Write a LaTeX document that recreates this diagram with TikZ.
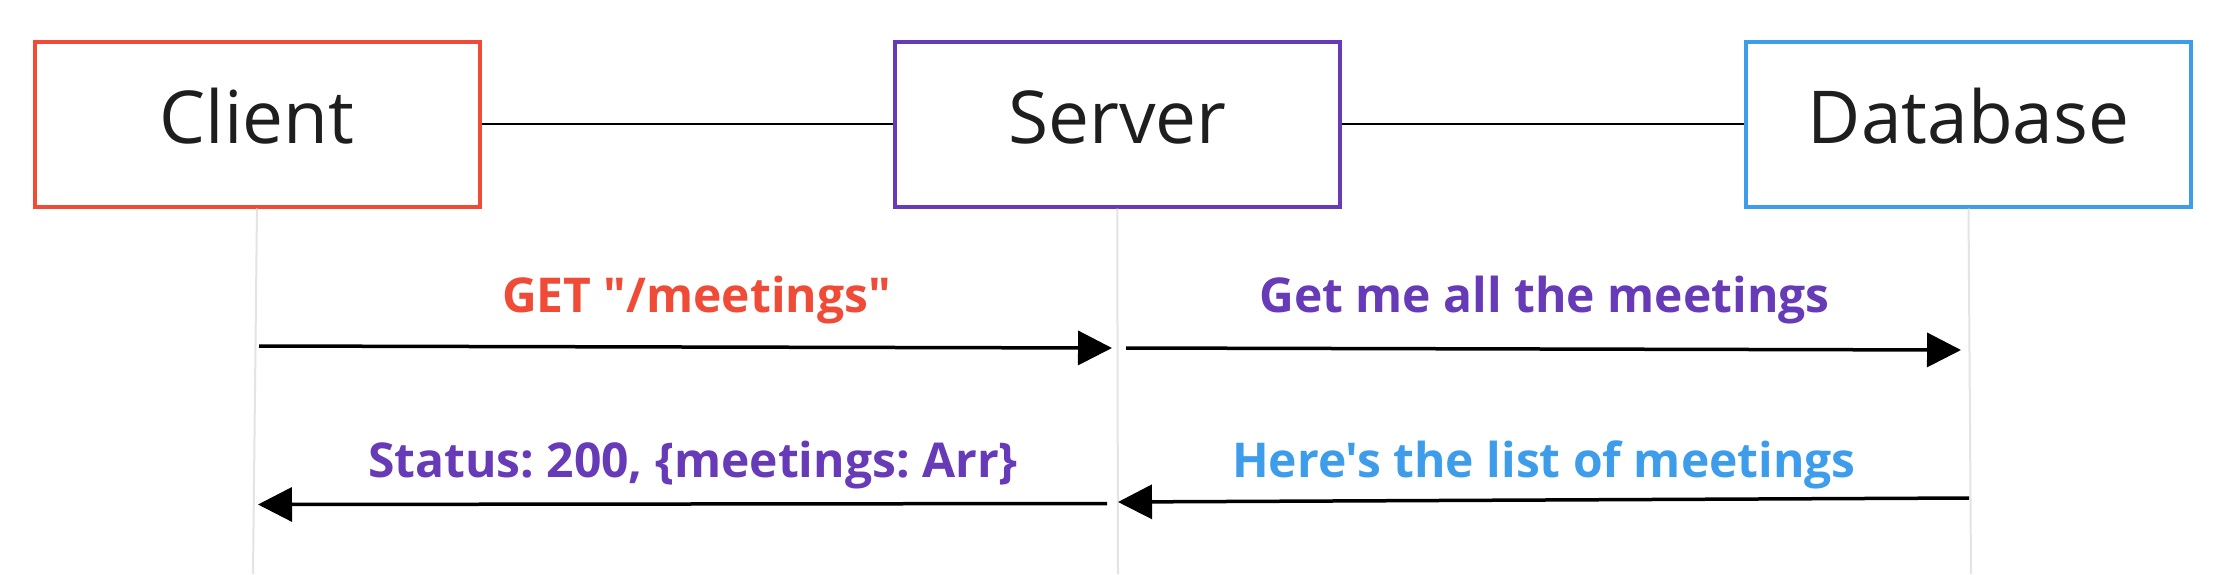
\documentclass[tikz,border=0pt]{standalone}
\usepackage{fontspec}
\setmainfont{Open Sans}[Ligatures=TeXOff]
\usetikzlibrary{arrows.meta}
\definecolor{cred}{HTML}{F04B36}
\definecolor{cpurple}{HTML}{673AB7}
\definecolor{cblue}{HTML}{3D9DEB}
\definecolor{lifegray}{HTML}{E4E4E4}
\definecolor{txtdark}{HTML}{1E1E1E}
\frenchspacing
\begin{document}
\begin{tikzpicture}[x=1pt,y=-1pt,
  actor/.style={draw=#1, line width=4pt, minimum width=445pt, minimum height=164.5pt,
    inner sep=0pt, text height=53pt, text depth=15pt,
    font=\fontsize{73}{86}\selectfont, text=txtdark},
  link/.style={line width=1.8pt, black},
  life/.style={line width=2pt, lifegray},
  msg/.style={line width=3.5pt, black, -{Triangle[length=34pt,width=34pt]}},
  lbl/.style={font=\fontsize{48}{58}\selectfont\bfseries, text=#1, anchor=base, inner sep=0pt}]
\useasboundingbox[fill=white] (0,0) rectangle (2236,574);
% actors
\node[actor=cred]    (client) at (257,124.25)   {Client};
\node[actor=cpurple] (server) at (1117.25,124.25) {Server};
\node[actor=cblue]   (db)     at (1968.5,124.25) {Database};
% links
\draw[link] (client.east) -- (server.west);
\draw[link] (server.east) -- (db.west);
% lifelines
\coordinate (clientEnd) at (253,574);
\coordinate (serverEnd) at (1118,574);
\coordinate (dbEnd)     at (1971,574);
\draw[life] (client.south) -- (clientEnd);
\draw[life] (server.south) -- (serverEnd);
\draw[life] (db.south) -- (dbEnd);
% message end points
\coordinate (m1s) at (259,346);   \coordinate (m1e) at (1112,348);
\coordinate (m2s) at (1126,348);  \coordinate (m2e) at (1961,350);
\coordinate (m3s) at (1107,503.5);\coordinate (m3e) at (258,504.5);
\coordinate (m4s) at (1969,498);  \coordinate (m4e) at (1118,502);
\draw[msg] (m1s) -- (m1e);
\draw[msg] (m2s) -- (m2e);
\draw[msg] (m3s) -- (m3e);
\draw[msg] (m4s) -- (m4e);
% labels
\node[lbl=cred]    (l1) at (696.5,312)  {GET "/meetings"};
\node[lbl=cpurple] (l2) at (1544.5,312) {Get me all the meetings};
\node[lbl=cpurple] (l3) at (693,477)  {Status: 200, \{meetings: Arr\}};
\node[lbl=cblue]   (l4) at (1544,477)   {Here's the list of meetings};
\end{tikzpicture}
\end{document}
